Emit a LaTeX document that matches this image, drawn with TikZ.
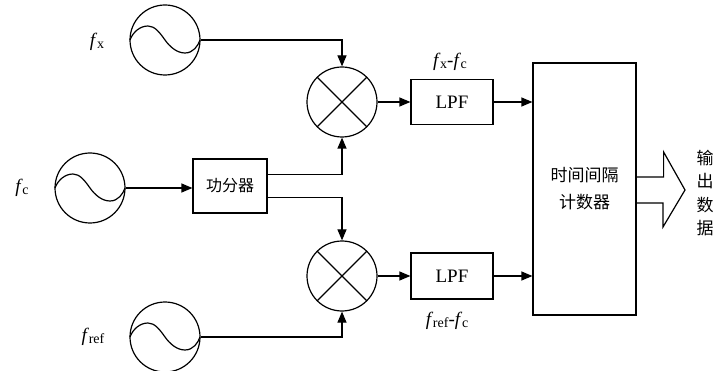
\documentclass[tikz,border=0pt]{standalone}
\usepackage{fontspec}
\setmainfont{Liberation Serif}
\newfontfamily\cjk{Noto Sans CJK SC}
\usetikzlibrary{arrows.meta,calc}
\newcommand\fsub[1]{\textit{f}\kern-0.3pt{\fontsize{14}{14}\selectfont\raisebox{-0.3ex}{#1}}}
\tikzset{
  wire/.style={line width=1.2pt},
  arr/.style={wire,-{Triangle[length=11pt,width=9pt]}},
  src/.style={circle,draw,line width=1.2pt,minimum size=70pt,inner sep=0pt},
  mix/.style={circle,draw,line width=1.2pt,minimum size=70pt,inner sep=0pt},
  blk/.style={draw,line width=1.2pt,inner sep=0pt},
  lbl/.style={font=\fontsize{19}{20}\selectfont,inner sep=0pt},
  zh/.style={font=\cjk\fontsize{17}{27}\selectfont,inner sep=0pt,align=center},
}
\newcommand\sinewave[1]{\draw[wire,shift={(#1)}] (-35,0) .. controls (-32,-8) and (-25,-14) .. (-17,-14) .. controls (-10,-14) and (-5,-7) .. (0,0) .. controls (5,7) and (12,13) .. (20,13) .. controls (28,13) and (33,6) .. (35,0);}
\newcommand\xmark[1]{\draw[wire,shift={(#1)}] (-24.75,-24.75) -- (24.75,24.75) (-24.75,24.75) -- (24.75,-24.75);}
\begin{document}
\begin{tikzpicture}[x=1pt,y=-1pt]
\useasboundingbox (0,0) rectangle (722,371);
% sources
\node[src] (sx) at (165,40) {};
\node[src] (sc) at (90,188) {};
\node[src] (sr) at (165,337) {};
\sinewave{sx.center}
\sinewave{sc.center}
\sinewave{sr.center}
\node[lbl] (lx) at (97,42) {\fsub{x}};
\node[lbl] (lc) at (22,188) {\fsub{c}};
\node[lbl] (lr) at (93,337) {\fsub{ref}};
% splitter
\node[blk,minimum width=74pt,minimum height=54pt,zh,font=\cjk\fontsize{16}{20}\selectfont] (sp) at (230,186) {功分器};
% mixers
\node[mix] (m1) at (342,102) {};
\node[mix] (m2) at (342,276) {};
\xmark{m1.center}
\xmark{m2.center}
% LPFs
\node[blk,minimum width=82pt,minimum height=45pt,font=\fontsize{19}{20}\selectfont] (l1) at (452,102) {LPF};
\node[blk,minimum width=82pt,minimum height=46pt,font=\fontsize{19}{20}\selectfont] (l2) at (452,276) {LPF};
\node[lbl] (t1) at (450,62) {\fsub{x}-\fsub{c}};
\node[lbl] (t2) at (447,321) {\fsub{ref}-\fsub{c}};
% counter
\node[blk,minimum width=103pt,minimum height=252pt,zh] (cnt) at (584.5,189) {时间间隔\\计数器};
% connectors
\draw[arr] (sx.east) -| (m1.north);
\draw[arr] (sc.east) -- (sc.east -| sp.west);
\draw[arr] ($(sp.east)+(0,-11.5)$) -| (m1.south);
\draw[arr] ($(sp.east)+(0,11.5)$) -| (m2.north);
\draw[arr] (sr.east) -| (m2.south);
\draw[arr] (m1.east) -- (l1.west);
\draw[arr] (m2.east) -- (l2.west);
\draw[arr] (l1.east) -- (l1.east -| cnt.west);
\draw[arr] (l2.east) -- (l2.east -| cnt.west);
% output arrow
\coordinate (oa) at ($(cnt.east)+(0,-12)$);
\coordinate (ob) at ($(cnt.east)+(0,14)$);
\draw[wire,line join=miter] (oa) -- ++(27,0) -- ++(0,-25) -- (685,190) -- (663,227) -- (663,203) -- (ob);
\node[font=\cjk\fontsize{17}{23.5}\selectfont,align=center,inner sep=0pt] (out) at (705,193) {输\\出\\数\\据};
\end{tikzpicture}
\end{document}
